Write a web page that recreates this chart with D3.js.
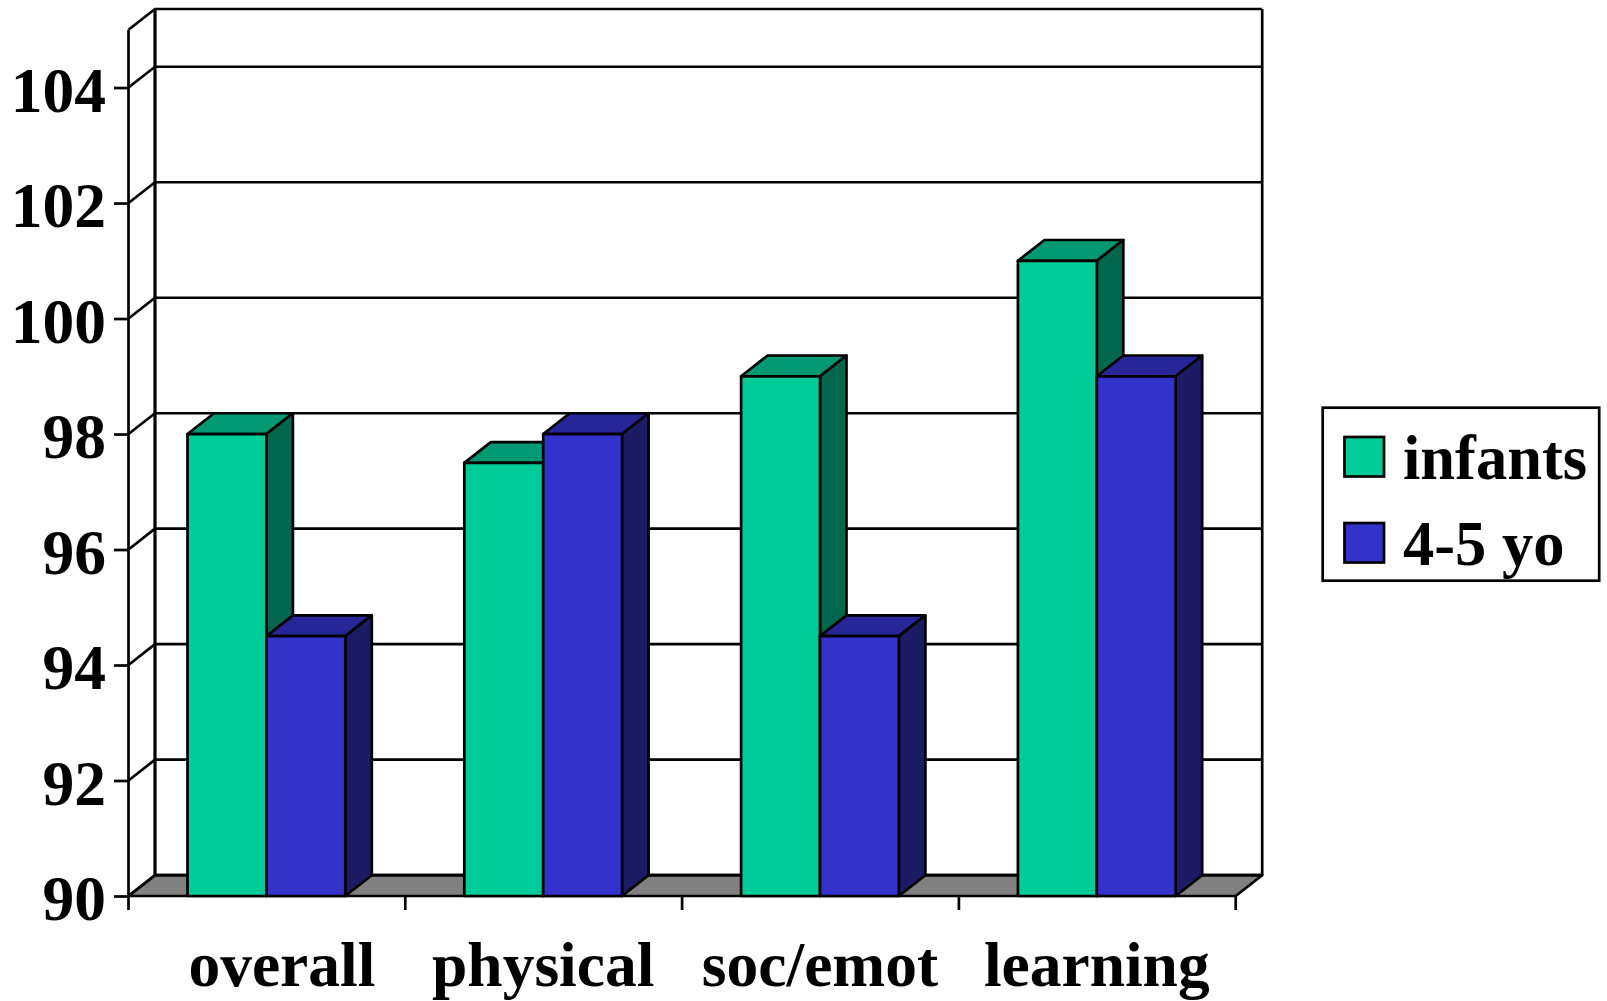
<!DOCTYPE html>
<html>
<head>
<meta charset="utf-8">
<title>Scores by age group</title>
<script src="https://cdn.jsdelivr.net/npm/d3@7/dist/d3.min.js"></script>
<style>
  html, body { margin: 0; padding: 0; background: #fff; }
  svg { display: block; }
  text { font-family: "Liberation Serif", "Times New Roman", serif; font-weight: 700; fill: #000; }
</style>
</head>
<body>
<svg id="chart" width="1607" height="1001"></svg>
<script>
// Chart data
const categories = ["overall", "physical", "soc/emot", "learning"];
const seriesNames = ["infants", "4-5 yo"];
const infants = [98, 97.5, 99, 101];
const fourToFive = [94.5, 98, 94.5, 99];
const yTicks = [90, 92, 94, 96, 98, 100, 102, 104];

// Front / top / side shades for each series
const faceColors = [
  { front: "#00CC99", top: "#009973", side: "#00664D" },
  { front: "#3333CC", top: "#262699", side: "#1C1C66" }
];
const seriesValues = [infants, fourToFive];

// Plot box: front plane plus the oblique depth offset of the walls
const plot = { left: 128.5, right: 1235.7, top: 29.8, bottom: 896 };
const depth = { dx: 26.5, dy: 20.8 };
const lineWidth = 2.7;
const fontSize = 63.5;

const svg = d3.select("#chart");
const y = d3.scaleLinear().domain([90, 105]).range([plot.bottom, plot.top]);
const x0 = d3.scaleBand().domain(categories).range([plot.left - 0.5, plot.right - 0.5])
  .paddingInner(0.43).paddingOuter(0.215);
const x1 = d3.scaleBand().domain(d3.range(seriesNames.length)).range([0, x0.bandwidth()]);

const poly = pts => pts.map(p => p.join(",")).join(" ");
const backLeft = plot.left + depth.dx;
const backRight = plot.right + depth.dx;

// Floor
svg.append("polygon")
  .attr("points", poly([
    [plot.left, plot.bottom], [plot.right, plot.bottom],
    [backRight, plot.bottom - depth.dy], [backLeft, plot.bottom - depth.dy]
  ]))
  .attr("fill", "#808080").attr("stroke", "#000").attr("stroke-width", lineWidth)
  .attr("stroke-linejoin", "round");

// Gridlines run along the side wall and then across the back wall
const gridValues = [...yTicks, 105];
svg.append("g").selectAll("polyline").data(gridValues).join("polyline")
  .attr("points", d => poly([
    [plot.left, y(d)], [backLeft, y(d) - depth.dy], [backRight, y(d) - depth.dy]
  ]))
  .attr("fill", "none").attr("stroke", "#000").attr("stroke-width", lineWidth);

// Wall edges
const edge = (x1v, y1v, x2v, y2v, w) => svg.append("line")
  .attr("x1", x1v).attr("y1", y1v).attr("x2", x2v).attr("y2", y2v)
  .attr("stroke", "#000").attr("stroke-width", w);
edge(backLeft, y(105) - depth.dy, backLeft, plot.bottom - depth.dy, 3.2);
edge(backRight, y(105) - depth.dy, backRight, plot.bottom - depth.dy, lineWidth);
edge(plot.left, y(105), plot.left, plot.bottom, lineWidth);

// Bars, each drawn as top, side and front faces
const bars = svg.append("g");
categories.forEach((cat, c) => {
  seriesValues.forEach((vals, s) => {
    const xl = x0(cat) + x1(s);
    const xr = xl + x1.bandwidth();
    const yt = y(vals[c]);
    const colors = faceColors[s];
    const g = bars.append("g")
      .attr("stroke", "#000").attr("stroke-width", lineWidth).attr("stroke-linejoin", "round");
    g.append("polygon").attr("fill", colors.top).attr("points", poly([
      [xl, yt], [xr, yt], [xr + depth.dx, yt - depth.dy], [xl + depth.dx, yt - depth.dy]
    ]));
    g.append("polygon").attr("fill", colors.side).attr("points", poly([
      [xr, yt], [xr + depth.dx, yt - depth.dy], [xr + depth.dx, plot.bottom - depth.dy], [xr, plot.bottom]
    ]));
    g.append("rect").attr("fill", colors.front)
      .attr("x", xl).attr("y", yt).attr("width", xr - xl).attr("height", plot.bottom - yt);
  });
});

// Value axis
const yAxis = svg.append("g")
  .attr("transform", `translate(${plot.left},0)`)
  .call(d3.axisLeft(y).tickValues(yTicks).tickSize(14.5).tickPadding(8).tickFormat(d3.format("d")));
yAxis.select(".domain").remove();
yAxis.selectAll("line").attr("stroke", "#000").attr("stroke-width", lineWidth);
yAxis.selectAll("text").attr("font-size", fontSize).attr("dy", "0.37em")
  .style("font-family", "'Liberation Serif', serif").style("font-weight", 700);

// Category axis: ticks mark the band boundaries
const step = x0.step();
const xEdges = d3.range(categories.length + 1).map(i => plot.left + i * step);
svg.append("g").selectAll("line").data(xEdges).join("line")
  .attr("x1", d => d).attr("x2", d => d)
  .attr("y1", plot.bottom).attr("y2", plot.bottom + 14)
  .attr("stroke", "#000").attr("stroke-width", lineWidth);

const firstLabelShift = 15.5;
svg.append("g").selectAll("text").data(categories).join("text")
  .attr("x", (d, i) => x0(d) + x0.bandwidth() / 2 + (i === 0 ? firstLabelShift : 0))
  .attr("y", 986)
  .attr("text-anchor", "middle")
  .attr("font-size", fontSize)
  .text(d => d);

// Legend
const legend = svg.append("g");
legend.append("rect")
  .attr("x", 1322.7).attr("y", 407.7).attr("width", 276.5).attr("height", 173)
  .attr("fill", "#fff").attr("stroke", "#000").attr("stroke-width", lineWidth);
const legendRows = [437, 523];
seriesNames.forEach((name, i) => {
  legend.append("rect")
    .attr("x", 1344.5).attr("y", legendRows[i]).attr("width", 39.5).attr("height", 39.5)
    .attr("fill", faceColors[i].front).attr("stroke", "#000").attr("stroke-width", lineWidth);
  legend.append("text")
    .attr("x", 1403).attr("y", legendRows[i] + 42)
    .attr("font-size", 62.5)
    .text(name);
});
</script>
</body>
</html>
